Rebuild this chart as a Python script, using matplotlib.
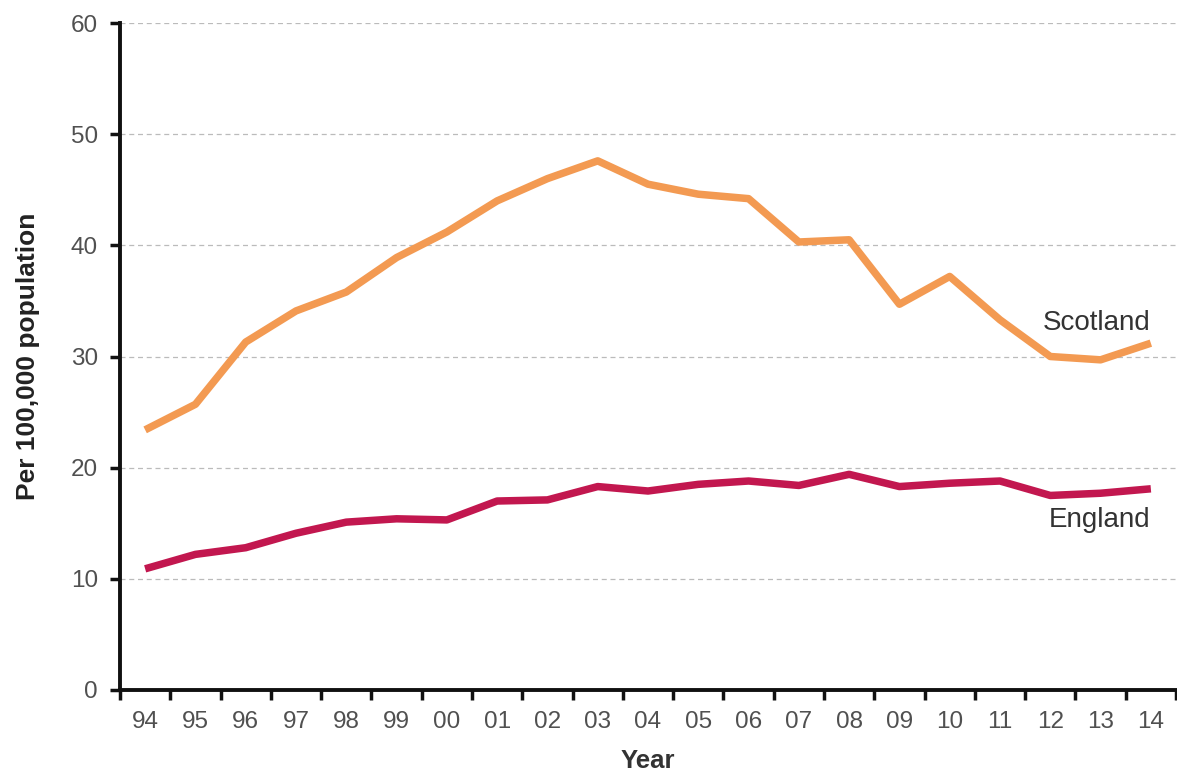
import matplotlib
matplotlib.use("Agg")
import matplotlib.pyplot as plt

years = ["94", "95", "96", "97", "98", "99", "00", "01", "02", "03", "04",
         "05", "06", "07", "08", "09", "10", "11", "12", "13", "14"]
scotland = [23.4, 25.7, 31.3, 34.1, 35.8, 38.9, 41.2, 44.0, 46.0, 47.6, 45.5,
            44.6, 44.2, 40.3, 40.5, 34.7, 37.2, 33.3, 30.0, 29.7, 31.2]
england = [10.9, 12.2, 12.8, 14.1, 15.1, 15.4, 15.3, 17.0, 17.1, 18.3, 17.9,
           18.5, 18.8, 18.4, 19.4, 18.3, 18.6, 18.8, 17.5, 17.7, 18.1]
yticks = [0, 10, 20, 30, 40, 50, 60]

plt.rcParams['font.family'] = ['Liberation Sans', 'DejaVu Sans']

fig = plt.figure(figsize=(11.77, 7.72), dpi=100)
ax = fig.add_axes([120/1177, 82/772, 1056/1177, 667/772])

x = list(range(len(years)))
ax.plot(x, scotland, color="#F39A52", lw=5.4, solid_joinstyle="round", solid_capstyle="butt", zorder=3)
ax.plot(x, england, color="#C2174F", lw=5.4, solid_joinstyle="round", solid_capstyle="butt", zorder=3)

ax.set_xlim(-0.5, len(years) - 0.5)
ax.set_ylim(0, 60)
ax.set_yticks(yticks)
ax.set_yticklabels([str(t) for t in yticks])
for t in yticks[1:]:
    ax.axhline(t, color="#BBBBBB", lw=0.9, ls=(0, (4, 3)), zorder=1)

ax.set_xticks(x)
ax.set_xticklabels(years)
ax.set_xticks([i - 0.5 for i in range(len(years) + 1)], minor=True)
ax.tick_params(axis="x", which="major", length=0, pad=15, labelsize=17.5, labelcolor="#505050")
ax.tick_params(axis="x", which="minor", length=7, width=2.5, color="#111111", direction="out")
ax.tick_params(axis="y", which="major", length=7, width=2.5, color="#111111", pad=9,
               labelsize=17.5, labelcolor="#505050")

for s in ["top", "right"]:
    ax.spines[s].set_visible(False)
for s in ["left", "bottom"]:
    ax.spines[s].set_linewidth(2.8)
    ax.spines[s].set_color("#111111")

ax.set_ylabel("Per 100,000 population", fontsize=19, fontweight="bold", color="#222222", labelpad=22)
ax.set_xlabel("Year", fontsize=18.5, fontweight="bold", color="#333333", labelpad=12)

ax.text(20, 32.4, "Scotland", ha="right", va="baseline", fontsize=20, color="#333333")
ax.text(20, 14.7, "England", ha="right", va="baseline", fontsize=20, color="#333333")

fig.savefig("out.png", dpi=100)
